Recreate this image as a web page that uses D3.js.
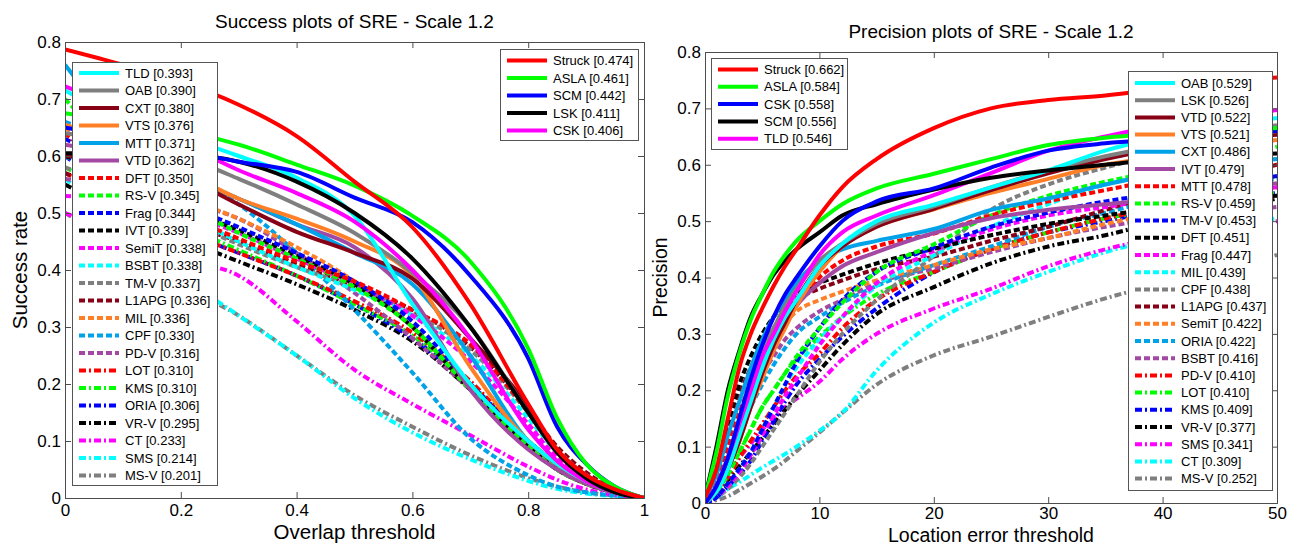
<!DOCTYPE html>
<html><head><meta charset="utf-8">
<script src="https://cdn.jsdelivr.net/npm/d3@7"></script>
<style>body{margin:0;background:#fff} svg{display:block} text{font-family:"Liberation Sans",Arial,sans-serif;fill:#000}</style>
</head><body><svg id="c" width="1290" height="546"></svg>
<script>
// ---------------- DATA ----------------
const successThresholds = [0,0.1,0.2,0.3,0.4,0.5,0.6,0.7,0.8,0.85,0.9,0.95,1];
const successNames = ["Struck","ASLA","SCM","LSK","CSK","TLD","OAB","CXT","VTS","MTT","VTD","DFT","RS-V","Frag","IVT","SemiT","BSBT","TM-V","L1APG","MIL","CPF","PD-V","LOT","KMS","ORIA","VR-V","CT","SMS","MS-V"];
const successScores = ["0.474","0.461","0.442","0.411","0.406","0.393","0.390","0.380","0.376","0.371","0.362","0.350","0.345","0.344","0.339","0.338","0.338","0.337","0.336","0.336","0.330","0.316","0.310","0.310","0.306","0.295","0.233","0.214","0.201"];
const successValues = [
 [0.787,0.76,0.73,0.69,0.635,0.555,0.475,0.34,0.165,0.085,0.04,0.015,0],
 [0.675,0.66,0.645,0.62,0.585,0.548,0.495,0.415,0.262,0.14,0.06,0.02,0],
 [0.65,0.63,0.61,0.59,0.572,0.527,0.484,0.39,0.245,0.125,0.06,0.02,0],
 [0.605,0.605,0.603,0.59,0.555,0.5,0.42,0.3,0.15,0.08,0.035,0.01,0],
 [0.722,0.68,0.625,0.575,0.535,0.485,0.4,0.28,0.12,0.065,0.03,0.01,0],
 [0.715,0.665,0.635,0.6,0.562,0.495,0.34,0.2,0.1,0.06,0.03,0.01,0],
 [0.64,0.625,0.6,0.56,0.515,0.465,0.395,0.3,0.15,0.08,0.04,0.012,0],
 [0.6,0.59,0.565,0.515,0.467,0.43,0.385,0.28,0.16,0.08,0.035,0.012,0],
 [0.655,0.62,0.575,0.525,0.49,0.45,0.39,0.23,0.1,0.06,0.03,0.01,0],
 [0.76,0.64,0.57,0.525,0.48,0.43,0.375,0.25,0.1,0.06,0.03,0.01,0],
 [0.62,0.6,0.565,0.525,0.48,0.44,0.35,0.19,0.085,0.05,0.025,0.01,0],
 [0.64,0.56,0.5,0.455,0.415,0.38,0.33,0.27,0.15,0.08,0.04,0.015,0],
 [0.7,0.6,0.52,0.465,0.42,0.37,0.3,0.19,0.09,0.05,0.025,0.01,0],
 [0.63,0.58,0.52,0.475,0.43,0.38,0.31,0.2,0.1,0.06,0.03,0.01,0],
 [0.6,0.56,0.51,0.47,0.425,0.375,0.3,0.19,0.09,0.05,0.025,0.01,0],
 [0.53,0.52,0.5,0.465,0.42,0.375,0.32,0.24,0.13,0.07,0.035,0.012,0],
 [0.6,0.55,0.5,0.45,0.405,0.365,0.32,0.25,0.14,0.08,0.04,0.015,0],
 [0.58,0.54,0.49,0.445,0.405,0.37,0.325,0.26,0.15,0.085,0.04,0.015,0],
 [0.57,0.53,0.485,0.45,0.41,0.37,0.33,0.265,0.155,0.09,0.045,0.015,0],
 [0.65,0.58,0.53,0.49,0.44,0.38,0.3,0.19,0.09,0.05,0.025,0.01,0],
 [0.66,0.62,0.57,0.515,0.43,0.33,0.22,0.105,0.04,0.02,0.01,0.004,0],
 [0.56,0.54,0.52,0.49,0.43,0.36,0.28,0.19,0.095,0.05,0.025,0.01,0],
 [0.57,0.52,0.47,0.43,0.39,0.345,0.29,0.205,0.1,0.06,0.03,0.01,0],
 [0.58,0.53,0.48,0.435,0.39,0.34,0.285,0.2,0.1,0.06,0.03,0.01,0],
 [0.6,0.53,0.47,0.43,0.39,0.34,0.28,0.2,0.1,0.06,0.03,0.01,0],
 [0.55,0.5,0.455,0.415,0.375,0.33,0.275,0.19,0.09,0.05,0.025,0.01,0],
 [0.5,0.46,0.42,0.39,0.31,0.225,0.165,0.11,0.055,0.032,0.015,0.005,0],
 [0.56,0.48,0.39,0.32,0.25,0.175,0.115,0.068,0.03,0.016,0.008,0.003,0],
 [0.5,0.44,0.375,0.32,0.25,0.18,0.125,0.075,0.035,0.02,0.01,0.004,0]
];

const precisionThresholds = [0,1,2,3,4,5,6,7,8,10,12,15,20,25,30,35,40,45,50];
const precisionNames = ["Struck","ASLA","CSK","SCM","TLD","OAB","LSK","VTD","VTS","CXT","IVT","MTT","RS-V","TM-V","DFT","Frag","MIL","CPF","L1APG","SemiT","ORIA","BSBT","PD-V","LOT","KMS","VR-V","SMS","CT","MS-V"];
const precisionScores = ["0.662","0.584","0.558","0.556","0.546","0.529","0.526","0.522","0.521","0.486","0.479","0.478","0.459","0.453","0.451","0.447","0.439","0.438","0.437","0.422","0.422","0.416","0.410","0.410","0.409","0.377","0.341","0.309","0.252"];
const precisionValues = [
 [0.01,0.06,0.15,0.24,0.3,0.345,0.385,0.42,0.45,0.51,0.56,0.61,0.665,0.7,0.715,0.723,0.735,0.745,0.755],
 [0.01,0.09,0.19,0.265,0.325,0.37,0.41,0.44,0.465,0.5,0.53,0.558,0.584,0.61,0.635,0.648,0.655,0.66,0.665],
 [0,0.03,0.08,0.15,0.22,0.28,0.33,0.37,0.4,0.455,0.5,0.535,0.558,0.595,0.625,0.638,0.645,0.652,0.66],
 [0.01,0.1,0.2,0.27,0.33,0.37,0.405,0.43,0.45,0.48,0.51,0.53,0.556,0.577,0.59,0.6,0.61,0.615,0.62],
 [0,0.03,0.08,0.14,0.2,0.26,0.3,0.34,0.375,0.44,0.48,0.51,0.546,0.585,0.625,0.65,0.67,0.685,0.697],
 [0,0.02,0.06,0.12,0.18,0.24,0.29,0.33,0.36,0.42,0.46,0.5,0.529,0.56,0.59,0.625,0.65,0.67,0.683],
 [0,0.03,0.08,0.15,0.21,0.27,0.31,0.35,0.38,0.43,0.46,0.495,0.526,0.56,0.59,0.615,0.635,0.655,0.67],
 [0,0.02,0.06,0.11,0.17,0.23,0.28,0.32,0.36,0.42,0.455,0.49,0.522,0.555,0.585,0.61,0.63,0.645,0.653],
 [0,0.02,0.06,0.11,0.17,0.22,0.27,0.31,0.35,0.41,0.455,0.49,0.521,0.55,0.575,0.6,0.615,0.63,0.644],
 [0.01,0.05,0.12,0.18,0.24,0.29,0.33,0.36,0.39,0.43,0.45,0.465,0.486,0.52,0.54,0.565,0.585,0.6,0.61],
 [0,0.03,0.08,0.14,0.2,0.25,0.29,0.32,0.35,0.39,0.42,0.445,0.479,0.505,0.52,0.53,0.54,0.555,0.567],
 [0,0.04,0.1,0.16,0.21,0.25,0.29,0.32,0.35,0.4,0.43,0.455,0.478,0.51,0.535,0.555,0.575,0.59,0.6],
 [0,0.02,0.05,0.09,0.13,0.17,0.2,0.23,0.26,0.31,0.355,0.41,0.459,0.51,0.545,0.57,0.59,0.61,0.632],
 [0,0.01,0.035,0.06,0.09,0.13,0.17,0.21,0.25,0.31,0.36,0.41,0.453,0.49,0.515,0.535,0.55,0.565,0.58],
 [0,0.06,0.14,0.21,0.26,0.3,0.33,0.355,0.37,0.39,0.405,0.425,0.451,0.475,0.495,0.51,0.525,0.54,0.545],
 [0,0.01,0.03,0.055,0.085,0.12,0.155,0.19,0.22,0.28,0.33,0.39,0.447,0.485,0.51,0.525,0.54,0.55,0.56],
 [0,0.01,0.03,0.06,0.09,0.13,0.17,0.21,0.24,0.29,0.33,0.385,0.439,0.49,0.53,0.565,0.585,0.6,0.61],
 [0,0.01,0.025,0.045,0.07,0.1,0.13,0.16,0.19,0.25,0.3,0.36,0.438,0.52,0.565,0.595,0.62,0.645,0.665],
 [0,0.05,0.12,0.19,0.24,0.28,0.31,0.34,0.36,0.38,0.395,0.415,0.437,0.465,0.49,0.52,0.55,0.575,0.6],
 [0,0.05,0.12,0.18,0.23,0.27,0.3,0.32,0.34,0.36,0.375,0.395,0.422,0.45,0.47,0.495,0.515,0.53,0.545],
 [0,0.03,0.07,0.12,0.17,0.21,0.245,0.275,0.3,0.33,0.355,0.385,0.422,0.455,0.49,0.515,0.54,0.56,0.575],
 [0,0.04,0.09,0.14,0.19,0.23,0.26,0.29,0.31,0.34,0.36,0.39,0.416,0.445,0.47,0.49,0.505,0.515,0.525],
 [0,0.02,0.045,0.08,0.11,0.14,0.17,0.2,0.225,0.265,0.31,0.36,0.41,0.45,0.48,0.505,0.525,0.545,0.56],
 [0,0.02,0.05,0.09,0.13,0.17,0.2,0.23,0.255,0.295,0.33,0.37,0.41,0.45,0.48,0.505,0.52,0.535,0.55],
 [0,0.01,0.03,0.05,0.075,0.11,0.145,0.18,0.21,0.255,0.295,0.345,0.409,0.45,0.48,0.5,0.52,0.535,0.55],
 [0,0.02,0.04,0.065,0.09,0.115,0.14,0.165,0.19,0.235,0.28,0.335,0.383,0.425,0.455,0.475,0.5,0.52,0.54],
 [0,0.02,0.05,0.08,0.105,0.13,0.15,0.17,0.185,0.215,0.255,0.3,0.345,0.38,0.42,0.45,0.472,0.488,0.5],
 [0,0.01,0.025,0.037,0.05,0.063,0.075,0.087,0.1,0.128,0.16,0.235,0.32,0.37,0.41,0.445,0.47,0.49,0.505],
 [0,0.005,0.012,0.023,0.035,0.047,0.06,0.075,0.092,0.125,0.16,0.21,0.262,0.295,0.33,0.363,0.39,0.415,0.44]
];

const yTickValues = [0,0.1,0.2,0.3,0.4,0.5,0.6,0.7,0.8];
const successXTicks = [0,0.2,0.4,0.6,0.8,1];
const precisionXTicks = [0,10,20,30,40,50];

// ---------------- STYLE ----------------
const palette = ["#ff0000","#00ff00","#0000ff","#000000","#ff00ff","#00ffff","#7f7f7f","#880015","#ff7f27","#00a2e8","#a349a4"];
function styleOf(i){ return {color: palette[i % 11], dash: i < 11 ? null : (i < 22 ? "6,3" : "7,3,2,3")}; }
const FONT_TICK = 17, FONT_TITLE = 19, FONT_LEG = 13;

const svg = d3.select("#c");

function panel(cfg){
  const g = svg.append("g");
  const x = d3.scaleLinear().domain(cfg.xDomain).range([cfg.left, cfg.right]);
  const y = d3.scaleLinear().domain([0,0.8]).range([cfg.bottom, cfg.top]);
  const clipId = "clip" + cfg.id;
  svg.append("defs").append("clipPath").attr("id", clipId).append("rect")
    .attr("x", cfg.left).attr("y", cfg.top).attr("width", cfg.right-cfg.left).attr("height", cfg.bottom-cfg.top);

  // lines (worst first so best sits on top)
  const line = d3.line().x(d=>x(d[0])).y(d=>y(d[1])).curve(d3.curveMonotoneX);
  const lg = g.append("g").attr("clip-path", `url(#${clipId})`);
  for (let i = cfg.names.length - 1; i >= 0; i--) {
    const st = styleOf(i);
    const pts = cfg.thresholds.map((t,k)=>[t, cfg.values[i][k]]);
    lg.append("path").attr("d", line(pts)).attr("fill","none")
      .attr("stroke", st.color).attr("stroke-width", 4)
      .attr("stroke-dasharray", st.dash).attr("stroke-linejoin","round");
  }

  // axes
  const axisColor = "#4d4d4d";
  const ax = g.append("g").attr("transform", `translate(0,${cfg.bottom})`)
    .call(d3.axisBottom(x).tickValues(cfg.xTicks).tickSize(-6).tickPadding(cfg.xTickPad).tickFormat(d3.format("")));
  const axT = g.append("g").attr("transform", `translate(0,${cfg.top})`)
    .call(d3.axisTop(x).tickValues(cfg.xTicks).tickSize(-6).tickFormat(""));
  const ay = g.append("g").attr("transform", `translate(${cfg.left},0)`)
    .call(d3.axisLeft(y).tickValues(yTickValues).tickSize(-6).tickPadding(4).tickFormat(d3.format("")));
  const ayR = g.append("g").attr("transform", `translate(${cfg.right},0)`)
    .call(d3.axisRight(y).tickValues(yTickValues).tickSize(-6).tickFormat(""));
  [ax, axT, ay, ayR].forEach(a => {
    a.select(".domain").attr("stroke", axisColor);
    a.selectAll(".tick line").attr("stroke", axisColor);
    a.selectAll("text").attr("font-size", FONT_TICK).attr("fill","#000")
      .attr("font-family", '"Liberation Sans", Arial, sans-serif');
  });

  // titles
  g.append("text").attr("x", (cfg.left+cfg.right)/2).attr("y", cfg.titleY)
    .attr("text-anchor","middle").attr("font-size", FONT_TITLE).text(cfg.title);
  g.append("text").attr("x", (cfg.left+cfg.right)/2).attr("y", cfg.xLabelY)
    .attr("text-anchor","middle").attr("font-size", cfg.labelFont).text(cfg.xLabel);
  g.append("text").attr("transform", `translate(${cfg.yLabelX},${(cfg.top+cfg.bottom)/2}) rotate(-90)`)
    .attr("text-anchor","middle").attr("font-size", cfg.labelFont).text(cfg.yLabel);

  // legends
  cfg.legends.forEach(L => {
    const lgd = g.append("g");
    const n = L.to - L.from;
    lgd.append("rect").attr("x", L.x+0.5).attr("y", L.y+0.5).attr("width", L.w).attr("height", L.h)
      .attr("fill","#fff").attr("stroke","#555").attr("stroke-width",1);
    for (let k = 0; k < n; k++) {
      const i = L.from + k;
      const st = styleOf(i);
      const cy = L.y + L.first + k * L.step;
      lgd.append("line").attr("x1", L.x+7).attr("x2", L.x+47).attr("y1", cy).attr("y2", cy)
        .attr("stroke", st.color).attr("stroke-width", 4).attr("stroke-dasharray", st.dash);
      lgd.append("text").attr("x", L.x+53).attr("y", cy).attr("dy","0.36em")
        .attr("font-size", FONT_LEG).text(`${cfg.names[i]} [${cfg.scores[i]}]`);
    }
  });
}

panel({
  id:"s", left:65, right:644, top:42, bottom:498, xDomain:[0,1],
  xTicks: successXTicks, thresholds: successThresholds, xTickPad:6,
  names: successNames, scores: successScores, values: successValues,
  title:"Success plots of SRE - Scale 1.2", titleY:28, labelFont:20.5,
  xLabel:"Overlap threshold", xLabelY:539, yLabel:"Success rate", yLabelX:27,
  legends:[
    {from:0, to:5, x:500, y:49, w:138, h:91, first:11.5, step:17.5},
    {from:5, to:29, x:72, y:62, w:145, h:423, first:11, step:17.5}
  ]
});

panel({
  id:"p", left:705, right:1277, top:52, bottom:503, xDomain:[0,50],
  xTicks: precisionXTicks, thresholds: precisionThresholds, xTickPad:4,
  names: precisionNames, scores: precisionScores, values: precisionValues,
  title:"Precision plots of SRE - Scale 1.2", titleY:38, labelFont:19.5,
  xLabel:"Location error threshold", xLabelY:541.5, yLabel:"Precision", yLabelX:667,
  legends:[
    {from:0, to:5, x:711, y:58, w:136, h:91, first:11.5, step:17.3},
    {from:5, to:29, x:1128, y:71, w:144, h:419, first:12, step:17.2}
  ]
});
</script>
</body></html>
